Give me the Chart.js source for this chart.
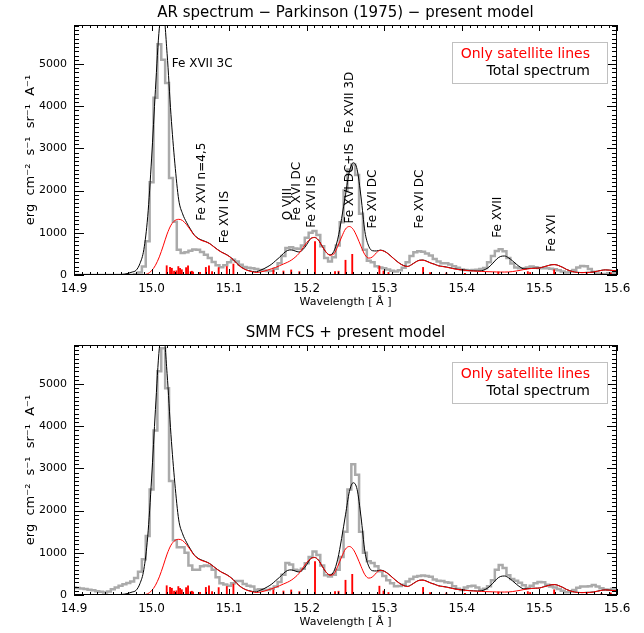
<!DOCTYPE html>
<html>
<head>
<meta charset="utf-8">
<script src="https://cdn.jsdelivr.net/npm/chart.js@4.4.1/dist/chart.umd.min.js"></script>
<style>
  html, body { margin: 0; padding: 0; background: #fff; overflow: hidden; }
  canvas { display: block; }
</style>
</head>
<body>
<canvas id="arChart" width="644" height="320"></canvas>
<canvas id="smmChart" width="644" height="320"></canvas>
<script>
// wavelength grid (Angstrom), 0.005 step
const wavelength = [
  14.900, 14.905, 14.910, 14.915, 14.920, 14.925, 14.930, 14.935, 14.940, 14.945,
  14.950, 14.955, 14.960, 14.965, 14.970, 14.975, 14.980, 14.985, 14.990, 14.995,
  15.000, 15.005, 15.010, 15.015, 15.020, 15.025, 15.030, 15.035, 15.040, 15.045,
  15.050, 15.055, 15.060, 15.065, 15.070, 15.075, 15.080, 15.085, 15.090, 15.095,
  15.100, 15.105, 15.110, 15.115, 15.120, 15.125, 15.130, 15.135, 15.140, 15.145,
  15.150, 15.155, 15.160, 15.165, 15.170, 15.175, 15.180, 15.185, 15.190, 15.195,
  15.200, 15.205, 15.210, 15.215, 15.220, 15.225, 15.230, 15.235, 15.240, 15.245,
  15.250, 15.255, 15.260, 15.265, 15.270, 15.275, 15.280, 15.285, 15.290, 15.295,
  15.300, 15.305, 15.310, 15.315, 15.320, 15.325, 15.330, 15.335, 15.340, 15.345,
  15.350, 15.355, 15.360, 15.365, 15.370, 15.375, 15.380, 15.385, 15.390, 15.395,
  15.400, 15.405, 15.410, 15.415, 15.420, 15.425, 15.430, 15.435, 15.440, 15.445,
  15.450, 15.455, 15.460, 15.465, 15.470, 15.475, 15.480, 15.485, 15.490, 15.495,
  15.500, 15.505, 15.510, 15.515, 15.520, 15.525, 15.530, 15.535, 15.540, 15.545,
  15.550, 15.555, 15.560, 15.565, 15.570, 15.575, 15.580, 15.585, 15.590, 15.595,
  15.600
];

// model: total spectrum (black)
const totalSpectrum = [
  0, 0, 0, 0, 0, 0, 0, 0, 0, 0,
  0, 5, 10, 20, 40, 70, 110, 270, 600, 1380,
  2750, 4400, 5850, 6250, 5250, 3800, 2650, 1780, 1450, 1250,
  1090, 950, 870, 825, 790, 745, 675, 605, 545, 500,
  445, 370, 275, 195, 140, 105, 85, 75, 110, 150,
  200, 260, 340, 420, 510, 580, 595, 570, 545, 600,
  720, 860, 890, 830, 680, 540, 475, 560, 850, 1340,
  1900, 2450, 2660, 2500, 1850, 1030, 680, 575, 570, 590,
  565, 505, 425, 345, 275, 225, 205, 245, 305, 350,
  355, 325, 285, 255, 220, 205, 190, 170, 150, 135,
  125, 115, 105, 100, 95, 100, 130, 190, 280, 380,
  440, 450, 410, 340, 260, 190, 145, 150, 158, 162,
  167, 192, 217, 242, 247, 222, 182, 132, 97, 72,
  62, 57, 62, 64, 72, 92, 112, 122, 117, 107,
  102
];

// model: satellite lines only (red)
const satelliteOnly = [
  0, 0, 0, 0, 0, 0, 0, 0, 0, 0,
  0, 0, 0, 0, 0, 0, 0, 0, 5, 30,
  100, 230, 430, 690, 970, 1180, 1290, 1320, 1290, 1195,
  1070, 940, 860, 815, 785, 740, 670, 600, 540, 495,
  440, 365, 270, 190, 135, 100, 75, 60, 70, 90,
  120, 150, 180, 220, 260, 300, 350, 420, 510, 640,
  770, 860, 890, 830, 680, 540, 470, 500, 680, 900,
  1090, 1150, 1080, 900, 680, 480, 400, 430, 530, 585,
  560, 500, 420, 340, 270, 220, 200, 240, 300, 345,
  350, 320, 280, 250, 215, 200, 185, 165, 145, 130,
  120, 110, 100, 95, 90, 85, 80, 78, 75, 72,
  70, 70, 72, 80, 95, 110, 130, 145, 155, 160,
  165, 190, 215, 240, 245, 220, 180, 130, 95, 70,
  60, 55, 60, 62, 70, 90, 110, 120, 115, 105,
  100
];

// observed: AR spectrum, Parkinson (1975)
const parkinsonAR = [
  0, 0, 0, 0, 0, 0, 0, 0, 0, 0,
  0, 0, 0, 0, 0, 0, 20, 60, 200, 800,
  2200, 4200, 5470, 5100, 4550, 2300, 1260, 600, 520, 540,
  575, 605, 600, 545, 480, 400, 310, 230, 185, 230,
  300, 360, 320, 240, 190, 170, 160, 145, 120, 105,
  95, 100, 150, 280, 450, 640, 660, 630, 625, 700,
  880, 1000, 1040, 950, 680, 400, 320, 420, 700, 1250,
  2000, 2500, 2620, 2370, 1450, 600, 340, 300, 210, 180,
  160, 130, 100, 80, 110, 170, 300, 450, 540, 560,
  550, 510, 460, 380, 320, 280, 280, 250, 210, 170,
  130, 120, 115, 118, 125, 140, 165, 300, 450, 570,
  610, 560, 400, 270, 180, 160, 160, 180, 200, 185,
  165, 160, 160, 150, 135, 115, 85, 60, 80, 120,
  180, 215, 205, 140, 75, 35, 15, 25, 40, 50,
  60
];

// observed: SMM FCS
const smmFCS = [
  175, 165, 155, 140, 125, 110, 90, 75, 60, 80,
  135, 180, 220, 255, 285, 320, 400, 550, 850, 1400,
  2500, 3900, 5300, 5850, 4900, 2700, 1300, 1130, 1130, 1000,
  700, 600, 600, 680, 700, 690, 600, 420, 280, 250,
  220, 280, 330, 330, 260, 220, 200, 125, 135, 125,
  120, 150, 200, 310, 480, 760, 720, 600, 580, 620,
  750, 900, 1030, 950, 700, 470, 440, 480, 600, 900,
  1500, 2500, 3100, 2850, 1500, 1000, 800, 760, 680, 560,
  450, 350, 280, 210, 215, 240, 320, 380, 430, 450,
  460, 450, 430, 370, 340, 330, 305, 290, 210, 150,
  120, 180, 205, 220, 180, 125, 150, 210, 350, 600,
  710, 640, 470, 380, 340, 290, 230, 165, 220, 280,
  310, 300, 245, 200, 175, 140, 100, 65, 80, 120,
  170, 200, 200, 210, 235, 200, 160, 130, 125, 150,
  160
];

// satellite line positions and intensities (red sticks)
const lineWave = [
  15.0195, 15.0238, 15.0262, 15.0290, 15.0320, 15.0345, 15.0367, 15.0390, 15.0445, 15.0470,
  15.0505, 15.0520, 15.0535, 15.0625, 15.0700, 15.0740, 15.0780, 15.0865, 15.0970, 15.1055,
  15.1570, 15.1700, 15.1800, 15.1905, 15.2107, 15.2365, 15.2410, 15.2500, 15.2587, 15.2937,
  15.2990, 15.3054, 15.3500, 15.3590, 15.3800, 15.4040, 15.4470, 15.4850, 15.4880, 15.5190,
  15.5610, 15.5800, 15.5920
];
const lineIntensity = [
  220, 180, 160, 90, 100, 200, 160, 126, 175, 220,
  80, 90, 70, 63, 180, 220, 80, 175, 200, 260,
  120, 95, 120, 80, 790, 80, 90, 350, 490, 210,
  95, 60, 180, 60, 50, 40, 70, 80, 60, 125,
  60, 40, 50
];

// line identifications (top panel only)
const labelText = ['Fe XVI n=4,5', 'Fe XVI IS', 'O VIII', 'Fe XVI DC', 'Fe XVI IS', 'Fe XVI DC+IS',
  'Fe XVII 3D', 'Fe XVI DC', 'Fe XVI DC', 'Fe XVII', 'Fe XVI'];
const labelWave = [15.0646, 15.0947, 15.1755, 15.187, 15.2064, 15.2558, 15.2558, 15.2858, 15.346, 15.446, 15.516];
const labelLevel = [1287, 750, 1300, 1287, 1120, 1220, 3355, 1100, 1100, 885, 550];
const flatLabel = { text: 'Fe XVII 3C', wave: 15.026, level: 5010 };

const xTickValues = [14.9, 15.0, 15.1, 15.2, 15.3, 15.4, 15.5, 15.6];
const yTickValues = [0, 1000, 2000, 3000, 4000, 5000];
const xMinorStep = 0.01;
const yMinorStep = 100;

Chart.defaults.font.family = '"DejaVu Sans", sans-serif';
Chart.defaults.color = '#000';

// IDL-like frame with inward ticks on all four sides
const frameTicks = {
    id: 'frameTicks',
    afterDatasetsDraw(chart) {
        const { ctx, chartArea: a, scales: { x, y } } = chart;
        ctx.save();
        ctx.strokeStyle = '#000';
        ctx.lineWidth = 1;
        ctx.beginPath();
        const nx = Math.round((x.max - x.min) / xMinorStep);
        for (let i = 0; i <= nx; i++) {
            const v = x.min + i * xMinorStep;
            const px = Math.round(x.getPixelForValue(v)) + 0.5;
            const major = xTickValues.some(t => Math.abs(t - v) < 1e-6);
            const len = major ? 6 : 3;
            ctx.moveTo(px, a.bottom); ctx.lineTo(px, a.bottom - len);
            ctx.moveTo(px, a.top); ctx.lineTo(px, a.top + len);
        }
        for (let v = 0; v <= y.max; v += yMinorStep) {
            const py = Math.round(y.getPixelForValue(v)) + 0.5;
            const len = (v % 1000 === 0) ? 10 : 5;
            ctx.moveTo(a.left, py); ctx.lineTo(a.left + len, py);
            ctx.moveTo(a.right, py); ctx.lineTo(a.right - len, py);
        }
        ctx.stroke();
        ctx.strokeRect(Math.round(a.left) + 0.5, Math.round(a.top) + 0.5,
            Math.round(a.width) - 1, Math.round(a.height) - 1);
        ctx.restore();
    }
};

// legend with a grey box, right-aligned coloured text
const boxLegend = {
    id: 'boxLegend',
    afterDatasetsDraw(chart) {
        const { ctx, chartArea: a } = chart;
        const items = chart.data.datasets.filter(d => d.inLegend);
        ctx.save();
        ctx.strokeStyle = '#c0c0c0';
        ctx.lineWidth = 1;
        ctx.strokeRect(a.right - 165 + 0.5, a.top + 17 + 0.5, 155, 41);
        ctx.font = '14px "DejaVu Sans"';
        ctx.textAlign = 'right';
        ctx.textBaseline = 'middle';
        items.forEach((d, i) => {
            ctx.fillStyle = d.borderColor;
            ctx.fillText(d.label, a.right - 27, a.top + 29 + i * 17);
        });
        ctx.restore();
    }
};

const lineLabels = {
    id: 'lineLabels',
    afterDatasetsDraw(chart, args, opts) {
        if (!opts || !opts.show) return;
        const { ctx, scales: { x, y } } = chart;
        ctx.save();
        ctx.font = '12px "DejaVu Sans"';
        ctx.fillStyle = '#000';
        ctx.textAlign = 'left';
        ctx.textBaseline = 'middle';
        ctx.fillText(flatLabel.text, x.getPixelForValue(flatLabel.wave), y.getPixelForValue(flatLabel.level));
        labelText.forEach((t, i) => {
            ctx.save();
            ctx.translate(x.getPixelForValue(labelWave[i]), y.getPixelForValue(labelLevel[i]));
            ctx.rotate(-Math.PI / 2);
            ctx.fillText(t, 0, 0);
            ctx.restore();
        });
        ctx.restore();
    }
};

function toPoints(values) {
    return wavelength.map((w, i) => ({ x: w, y: values[i] }));
}

function makeChart(canvasId, titleText, observed, showLabels) {
    const ctx = document.getElementById(canvasId).getContext('2d');
    return new Chart(ctx, {
        type: 'line',
        data: {
            datasets: [
                {
                    label: 'Only satellite lines',
                    inLegend: true,
                    data: toPoints(satelliteOnly),
                    borderColor: '#ff0000',
                    borderWidth: 1,
                    pointRadius: 0,
                    cubicInterpolationMode: 'monotone',
                    order: 0
                },
                {
                    label: 'Total spectrum',
                    inLegend: true,
                    data: toPoints(totalSpectrum),
                    borderColor: '#000000',
                    borderWidth: 1,
                    pointRadius: 0,
                    cubicInterpolationMode: 'monotone',
                    order: 1
                },
                {
                    type: 'bar',
                    label: 'Satellite lines',
                    data: lineWave.map((w, i) => ({ x: w, y: lineIntensity[i] })),
                    backgroundColor: '#ff0000',
                    barThickness: 1.2,
                    order: 2
                },
                {
                    label: 'Observed',
                    data: toPoints(observed),
                    borderColor: '#aaaaaa',
                    borderWidth: 2.5,
                    pointRadius: 0,
                    stepped: 'middle',
                    order: 3
                }
            ]
        },
        options: {
            responsive: false,
            animation: false,
            events: [],
            layout: { padding: { left: 0, right: 27, top: 0, bottom: 0 } },
            plugins: {
                legend: { display: false },
                tooltip: { enabled: false },
                title: {
                    display: true,
                    fullSize: false,
                    text: titleText,
                    font: { size: 15, weight: 'normal' },
                    padding: { top: 4, bottom: 3 }
                },
                lineLabels: { show: showLabels }
            },
            scales: {
                x: {
                    type: 'linear',
                    min: 14.9,
                    max: 15.6,
                    offset: false,
                    grid: { display: false, drawTicks: false, offset: false },
                    border: { display: false },
                    afterBuildTicks: scale => { scale.ticks = xTickValues.map(v => ({ value: v })); },
                    ticks: {
                        font: { size: 12 },
                        padding: 7,
                        maxRotation: 0,
                        callback: v => Number(v).toFixed(1)
                    },
                    title: {
                        display: true,
                        text: 'Wavelength [ Å ]',
                        font: { size: 11 },
                        padding: { top: 0, bottom: 11 }
                    },
                    afterFit: scale => {
                        scale.height = 45;
                        scale.paddingLeft = 0;
                        scale.paddingRight = 0;
                    }
                },
                y: {
                    min: 0,
                    max: 5925,
                    grid: { display: false, drawTicks: false },
                    border: { display: false },
                    afterBuildTicks: scale => { scale.ticks = yTickValues.map(v => ({ value: v })); },
                    ticks: { font: { size: 11 }, padding: 7, callback: v => String(v) },
                    title: {
                        display: true,
                        text: 'erg  cm⁻²  s⁻¹  sr⁻¹  A⁻¹',
                        font: { size: 13 },
                        padding: { top: 23, bottom: 0 }
                    },
                    afterFit: scale => {
                        scale.width = 74;
                        scale.paddingTop = 0;
                        scale.paddingBottom = 0;
                    }
                }
            }
        },
        plugins: [frameTicks, boxLegend, lineLabels]
    });
}

makeChart('arChart', 'AR spectrum − Parkinson (1975) − present model', parkinsonAR, true);
makeChart('smmChart', 'SMM FCS + present model', smmFCS, false);
</script>
</body>
</html>
